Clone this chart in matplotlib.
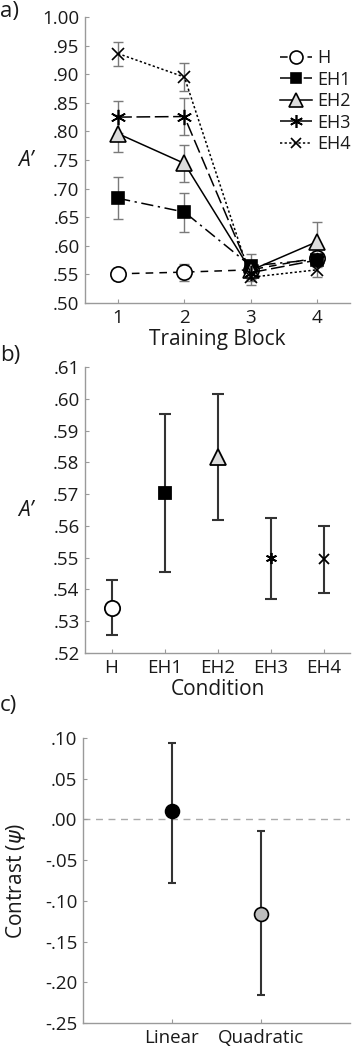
import matplotlib
matplotlib.use("Agg")
import matplotlib.pyplot as plt
from matplotlib.ticker import FuncFormatter, FixedLocator
import numpy as np

plt.rcParams['font.family'] = ['Open Sans', 'DejaVu Sans']

# ---------------- data ----------------
blocks = [1, 2, 3, 4]
conditions = ["H", "EH1", "EH2", "EH3", "EH4"]

a_H   = [0.551, 0.554, 0.558, 0.579]
a_EH1 = [0.683, 0.659, 0.565, 0.576]
a_EH2 = [0.796, 0.744, 0.557, 0.607]
a_EH3 = [0.825, 0.826, 0.553, 0.575]
a_EH4 = [0.936, 0.895, 0.545, 0.558]

e_H   = [0.010, 0.015, 0.010, 0.010]
e_EH1 = [0.037, 0.034, 0.020, 0.010]
e_EH2 = [0.032, 0.033, 0.015, 0.034]
e_EH3 = [0.028, 0.032, 0.015, 0.012]
e_EH4 = [0.021, 0.025, 0.013, 0.013]

b_means = [0.5343, 0.5703, 0.5818, 0.5498, 0.5495]
b_errs  = [0.0087, 0.0248, 0.0198, 0.0128, 0.0105]

contrasts = ["Linear", "Quadratic"]
c_means = [0.010, -0.116]
c_upper = [0.0939, -0.0147]
c_lower = [-0.078, -0.2156]

# ---------------- styling ----------------
spine_col = "#9a9a9a"
txt_col = "#1a1a1a"
tick_fs = 13.5
lab_fs = 15

fig = plt.figure(figsize=(3.52, 10.5), dpi=100)

def style_axes(ax):
    for s in ["top", "right"]:
        ax.spines[s].set_visible(False)
    for s in ["left", "bottom"]:
        ax.spines[s].set_color(spine_col)
        ax.spines[s].set_linewidth(1.0)
    ax.tick_params(direction="in", length=3, width=0.8, color=spine_col,
                   labelsize=tick_fs, labelcolor=txt_col, pad=4)

def fmt_dec(v, pos):
    v = round(v, 4)
    if abs(v) < 1e-9:
        v = 0.0
    s = "%.2f" % v
    if s.startswith("0."):
        s = s[1:]
    elif s.startswith("-0."):
        s = "-" + s[2:]
    return s

ast = (6, 2, 0)  # asterisk marker

series = [
    ("H", a_H, e_H, dict(marker="o", mfc="white", mec="black", ms=11, ls=(0, (5, 4)))),
    ("EH1", a_EH1, e_EH1, dict(marker="s", mfc="black", mec="black", ms=9, ls=(0, (8, 3, 1.5, 3)))),
    ("EH2", a_EH2, e_EH2, dict(marker="^", mfc="#dcdcdc", mec="black", ms=12, ls="-")),
    ("EH3", a_EH3, e_EH3, dict(marker=ast, mfc="black", mec="black", ms=11, ls=(0, (9, 3)))),
    ("EH4", a_EH4, e_EH4, dict(marker="x", mfc="black", mec="black", ms=8, ls=(0, (1.5, 1.5)))),
]

# ---------------- panel a ----------------
axa = fig.add_axes([85/352, 1-303/1050, 265/352, 286/1050])
style_axes(axa)
for name, y, e, st in series:
    axa.errorbar(blocks, y, yerr=e, fmt="none", ecolor="#7a7a7a", elinewidth=1.0,
                 capsize=3.5, capthick=1.0, zorder=2)
for name, y, e, st in series:
    axa.plot(blocks, y, color="black", lw=1.1, ls=st["ls"], marker=st["marker"],
             mfc=st["mfc"], mec=st["mec"], ms=st["ms"], mew=1.2, label=name, zorder=3)
axa.set_xlim(0.5, 4.5)
axa.set_ylim(0.50, 1.00)
axa.yaxis.set_major_locator(FixedLocator(np.arange(0.50, 1.001, 0.05)))
axa.yaxis.set_major_formatter(FuncFormatter(fmt_dec))
axa.set_xticks(blocks)
axa.set_xlabel("Training Block", fontsize=lab_fs, color=txt_col, labelpad=2)
axa.text(-0.225, 0.5, "A\u2019", transform=axa.transAxes, fontsize=lab_fs,
         style="italic", ha="center", va="center", color=txt_col)
leg = axa.legend(loc="upper left", bbox_to_anchor=(0.70, 0.92), frameon=False,
                 fontsize=13, handlelength=1.8, handletextpad=0.3, labelspacing=0.2,
                 borderpad=0, markerscale=0.85)
for t in leg.get_texts():
    t.set_color(txt_col)
fig.text(0.0, 1-11/1050, "a)", fontsize=16, ha="left", va="center", color=txt_col)

# ---------------- panel b ----------------
axb = fig.add_axes([85/352, 1-653/1050, 265/352, 286/1050])
style_axes(axb)
xb = np.arange(1, len(conditions) + 1)
b_styles = [
    dict(marker="o", mfc="white", mec="black", ms=11),
    dict(marker="s", mfc="black", mec="black", ms=9),
    dict(marker="^", mfc="#dcdcdc", mec="black", ms=12),
    dict(marker=ast, mfc="black", mec="black", ms=8),
    dict(marker="x", mfc="black", mec="black", ms=7),
]
for i in range(len(conditions)):
    axb.errorbar(xb[i], b_means[i], yerr=b_errs[i], fmt="none", ecolor="#333333",
                 elinewidth=1.5, capsize=4, capthick=1.5, zorder=2)
    st = b_styles[i]
    axb.plot(xb[i], b_means[i], ls="none", marker=st["marker"], mfc=st["mfc"],
             mec=st["mec"], ms=st["ms"], mew=1.3, zorder=3)
axb.set_xlim(0.5, 5.5)
axb.set_ylim(0.52, 0.61)
axb.yaxis.set_major_locator(FixedLocator(np.arange(0.52, 0.6101, 0.01)))
axb.yaxis.set_major_formatter(FuncFormatter(fmt_dec))
axb.set_xticks(xb)
axb.set_xticklabels(conditions)
axb.set_xlabel("Condition", fontsize=lab_fs, color=txt_col, labelpad=2)
axb.text(-0.225, 0.5, "A\u2019", transform=axb.transAxes, fontsize=lab_fs,
         style="italic", ha="center", va="center", color=txt_col)
fig.text(0.0, 1-355/1050, "b)", fontsize=16, ha="left", va="center", color=txt_col)

# ---------------- panel c ----------------
axc = fig.add_axes([83/352, 1-1023/1050, 267/352, 285/1050])
style_axes(axc)
xc = np.arange(1, len(contrasts) + 1)
c_faces = ["black", "#bdbdbd"]
axc.axhline(0.0, color="#aaaaaa", lw=1.0, ls=(0, (5, 4)), zorder=1)
for i in range(len(contrasts)):
    yerr = [[c_means[i] - c_lower[i]], [c_upper[i] - c_means[i]]]
    axc.errorbar(xc[i], c_means[i], yerr=yerr, fmt="none", ecolor="#333333",
                 elinewidth=1.5, capsize=3, capthick=1.5, zorder=2)
    axc.plot(xc[i], c_means[i], ls="none", marker="o", mfc=c_faces[i], mec="black",
             ms=10, mew=1.2, zorder=3)
axc.set_xlim(0, 3)
axc.set_ylim(-0.25, 0.10)
axc.yaxis.set_major_locator(FixedLocator(np.arange(-0.25, 0.1001, 0.05)))
axc.yaxis.set_major_formatter(FuncFormatter(fmt_dec))
axc.set_xticks(xc)
axc.set_xticklabels(contrasts)
axc.set_ylabel("Contrast ($\\psi$)", fontsize=lab_fs, color=txt_col)
axc.yaxis.set_label_coords(-0.205, 0.5)
fig.text(0.0, 1-705/1050, "c)", fontsize=16, ha="left", va="center", color=txt_col)

fig.savefig("out.png", dpi=100)
